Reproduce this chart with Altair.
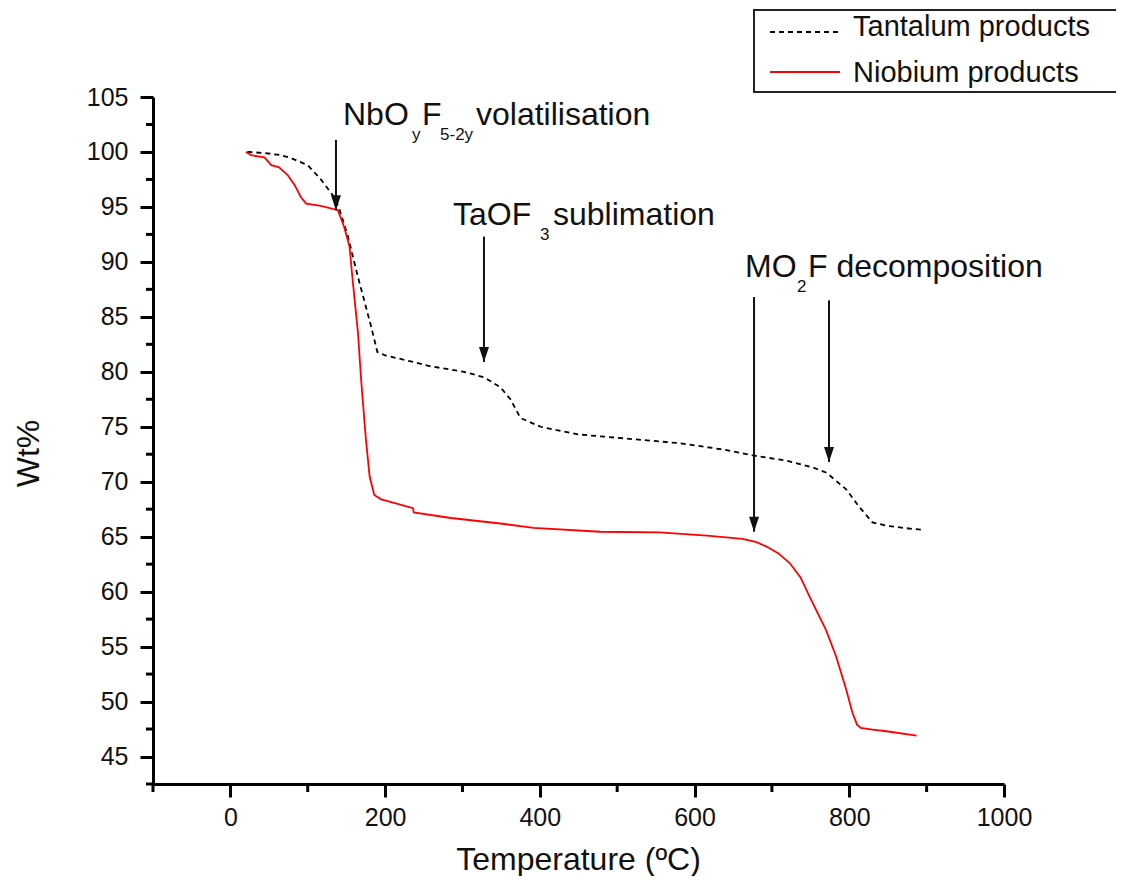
import altair as alt
import pandas as pd

# ---------------- data ----------------
ta_temp = [22, 45, 66, 80, 100, 117, 132, 140, 152, 165, 173, 182, 190, 200, 230, 259, 302,
           328, 349, 362, 375, 401, 450, 500, 581, 640, 675, 720, 753, 771, 796, 813, 830,
           848, 870, 897]
ta_wt = [100, 99.9, 99.7, 99.4, 98.8, 97.5, 96.1, 95.0, 92.3, 88.6, 86.5, 84.1, 81.8, 81.5,
         81.0, 80.5, 80.0, 79.5, 78.6, 77.5, 75.8, 75.0, 74.3, 74.0, 73.5, 72.9, 72.4, 71.9,
         71.3, 70.8, 69.3, 67.7, 66.3, 66.0, 65.8, 65.6]

nb_temp = [20, 27, 44, 53, 63, 74, 83, 91, 98, 117, 139, 147, 154, 158, 165, 169, 175, 180,
           186, 195, 215, 236, 237, 285, 349, 392, 478, 555, 616, 662, 680, 693, 708, 723,
           737, 749, 770, 783, 796, 804, 810, 815, 830, 848, 887]
nb_wt = [100, 99.7, 99.5, 98.8, 98.6, 97.9, 97.0, 95.9, 95.3, 95.1, 94.7, 93.2, 91.4, 88.4,
         83.5, 79.3, 74.0, 70.5, 68.8, 68.4, 68.0, 67.6, 67.2, 66.7, 66.2, 65.8, 65.45, 65.4,
         65.1, 64.8, 64.5, 64.1, 63.5, 62.6, 61.3, 59.5, 56.5, 54.1, 51.1, 49.0, 47.9, 47.6,
         47.45, 47.3, 46.9]

series_names = ["Tantalum products", "Niobium products"]
series_colors = ["#000000", "#ff0000"]

x_major = [0, 200, 400, 600, 800, 1000]
x_minor = [-100, 100, 300, 500, 700, 900]
y_major = [45, 50, 55, 60, 65, 70, 75, 80, 85, 90, 95, 100, 105]
y_minor = [42.5, 47.5, 52.5, 57.5, 62.5, 67.5, 72.5, 77.5, 82.5, 87.5, 92.5, 97.5, 102.5]

arrow_x = [136.5, 327.8, 676.9, 773.8]
arrow_top = [101.1, 92.3, 86.8, 86.5]
arrow_tip = [94.7, 80.9, 65.45, 71.8]

note_text = ["NbO", "y", "F", "5-2y", "volatilisation",
             "TaOF", "3", "sublimation",
             "MO", "2", "F decomposition"]
note_x = [145.6, 234.8, 247.7, 271.0, 317.5,
          287.8, 400.2, 417.0,
          665.2, 732.4, 746.6]
note_y = [102.45, 101.09, 102.45, 101.09, 102.45,
          93.36, 91.99, 93.36,
          88.62, 87.26, 88.62]
note_size = [32, 17, 32, 17, 32,
             32, 17, 32,
             32, 17, 32]

FONT = "Liberation Sans"
W, H = 851, 687

xs = alt.Scale(domain=[-100, 1000], nice=False, zero=False)
ys = alt.Scale(domain=[42.5, 105], nice=False, zero=False)

ta_df = pd.DataFrame({"x": ta_temp, "y": ta_wt, "i": range(len(ta_temp))})
nb_df = pd.DataFrame({"x": nb_temp, "y": nb_wt, "i": range(len(nb_temp))})

x_axis = alt.Axis(values=x_major, title="Temperature (ºC)", grid=False, format="d",
                  tickSize=13, labelPadding=8, labelFontSize=25, titleFontSize=32,
                  titleFontWeight="normal", titleX=425, titleY=85, titleAlign="center",
                  titleBaseline="alphabetic", labelFont=FONT, titleFont=FONT)
y_axis = alt.Axis(values=y_major, title="Wt%", grid=False, format="d",
                  tickSize=13, labelPadding=12, labelFontSize=25, titleFontSize=32,
                  titleFontWeight="normal", titleX=-125, titleY=356, titleAngle=270,
                  titleAlign="center", titleBaseline="middle", labelFont=FONT, titleFont=FONT)


def X(field):
    return alt.X(field, scale=xs, axis=x_axis)


def Y(field):
    return alt.Y(field, scale=ys, axis=y_axis)


ta_line = alt.Chart(ta_df).mark_line(color=series_colors[0], strokeWidth=1.8,
                                     strokeDash=[5, 4]).encode(
    x=X("x:Q"), y=Y("y:Q"), order="i:Q")
nb_line = alt.Chart(nb_df).mark_line(color=series_colors[1], strokeWidth=1.8).encode(
    x=X("x:Q"), y=Y("y:Q"), order="i:Q")

# minor ticks
xmin_df = pd.DataFrame({"x": x_minor})
ymin_df = pd.DataFrame({"y": y_minor})
x_minor_ticks = alt.Chart(xmin_df).mark_rule(color="black", strokeWidth=3).encode(
    x=X("x:Q"), y=alt.value(H), y2=alt.value(H + 8))
y_minor_ticks = alt.Chart(ymin_df).mark_rule(color="black", strokeWidth=3).encode(
    y=Y("y:Q"), x=alt.value(0), x2=alt.value(-7))

# arrows
arr_df = pd.DataFrame({"x": arrow_x, "y": arrow_top, "tip": arrow_tip})
arrow_lines = alt.Chart(arr_df).mark_rule(color="#111111", strokeWidth=2).encode(
    x=X("x:Q"), y=Y("y:Q"), y2="tip:Q")
arrow_heads = alt.Chart(arr_df).mark_point(shape="M-1,-3L1,-3L0,0Z", filled=True,
                                           color="#111111", size=100, opacity=1).encode(
    x=X("x:Q"), y=Y("tip:Q"))

# annotations
note_df = pd.DataFrame({"x": note_x, "y": note_y, "t": note_text, "s": note_size})
notes = alt.Chart(note_df).mark_text(align="left", baseline="alphabetic", font=FONT,
                                     color="#111111").encode(
    x=X("x:Q"), y=Y("y:Q"), text="t:N",
    size=alt.Size("s:Q", scale=None, legend=None))

# legend (drawn by hand, above the plot area)
one = pd.DataFrame({"a": [0]})
leg_box = alt.Chart(one).mark_rect(
    fill="white", stroke="#222222", strokeWidth=2).encode(
    x=alt.value(601), x2=alt.value(1000), y=alt.value(-87), y2=alt.value(-5))
leg_ta_line = alt.Chart(one).mark_rule(
    color=series_colors[0], strokeWidth=1.8, strokeDash=[5, 4]).encode(
    x=alt.value(617), x2=alt.value(687), y=alt.value(-65))
leg_nb_line = alt.Chart(one).mark_rule(
    color=series_colors[1], strokeWidth=1.8).encode(
    x=alt.value(617), x2=alt.value(687), y=alt.value(-25))
leg_ta_text = alt.Chart(pd.DataFrame({"t": [series_names[0]]})).mark_text(
    align="left", baseline="alphabetic", font=FONT, fontSize=29, color="#111111").encode(
    x=alt.value(700), y=alt.value(-61), text="t:N")
leg_nb_text = alt.Chart(pd.DataFrame({"t": [series_names[1]]})).mark_text(
    align="left", baseline="alphabetic", font=FONT, fontSize=29, color="#111111").encode(
    x=alt.value(700), y=alt.value(-15), text="t:N")

chart = alt.layer(
    ta_line, nb_line, x_minor_ticks, y_minor_ticks, arrow_lines, arrow_heads, notes,
    leg_box, leg_ta_line, leg_nb_line, leg_ta_text, leg_nb_text,
).properties(
    width=W, height=H,
    autosize=alt.AutoSizeParams(type="none"),
    padding={"left": 145, "top": 89, "right": 112, "bottom": 92},
    background="white",
).configure_view(stroke=None).configure_axis(
    domainColor="black", domainWidth=3, tickColor="black", tickWidth=3,
    labelColor="#111111", titleColor="#111111", labelFlush=False, labelOverlap=False,
)

chart.save("out.html", embed_options={"renderer": "svg", "actions": False})
